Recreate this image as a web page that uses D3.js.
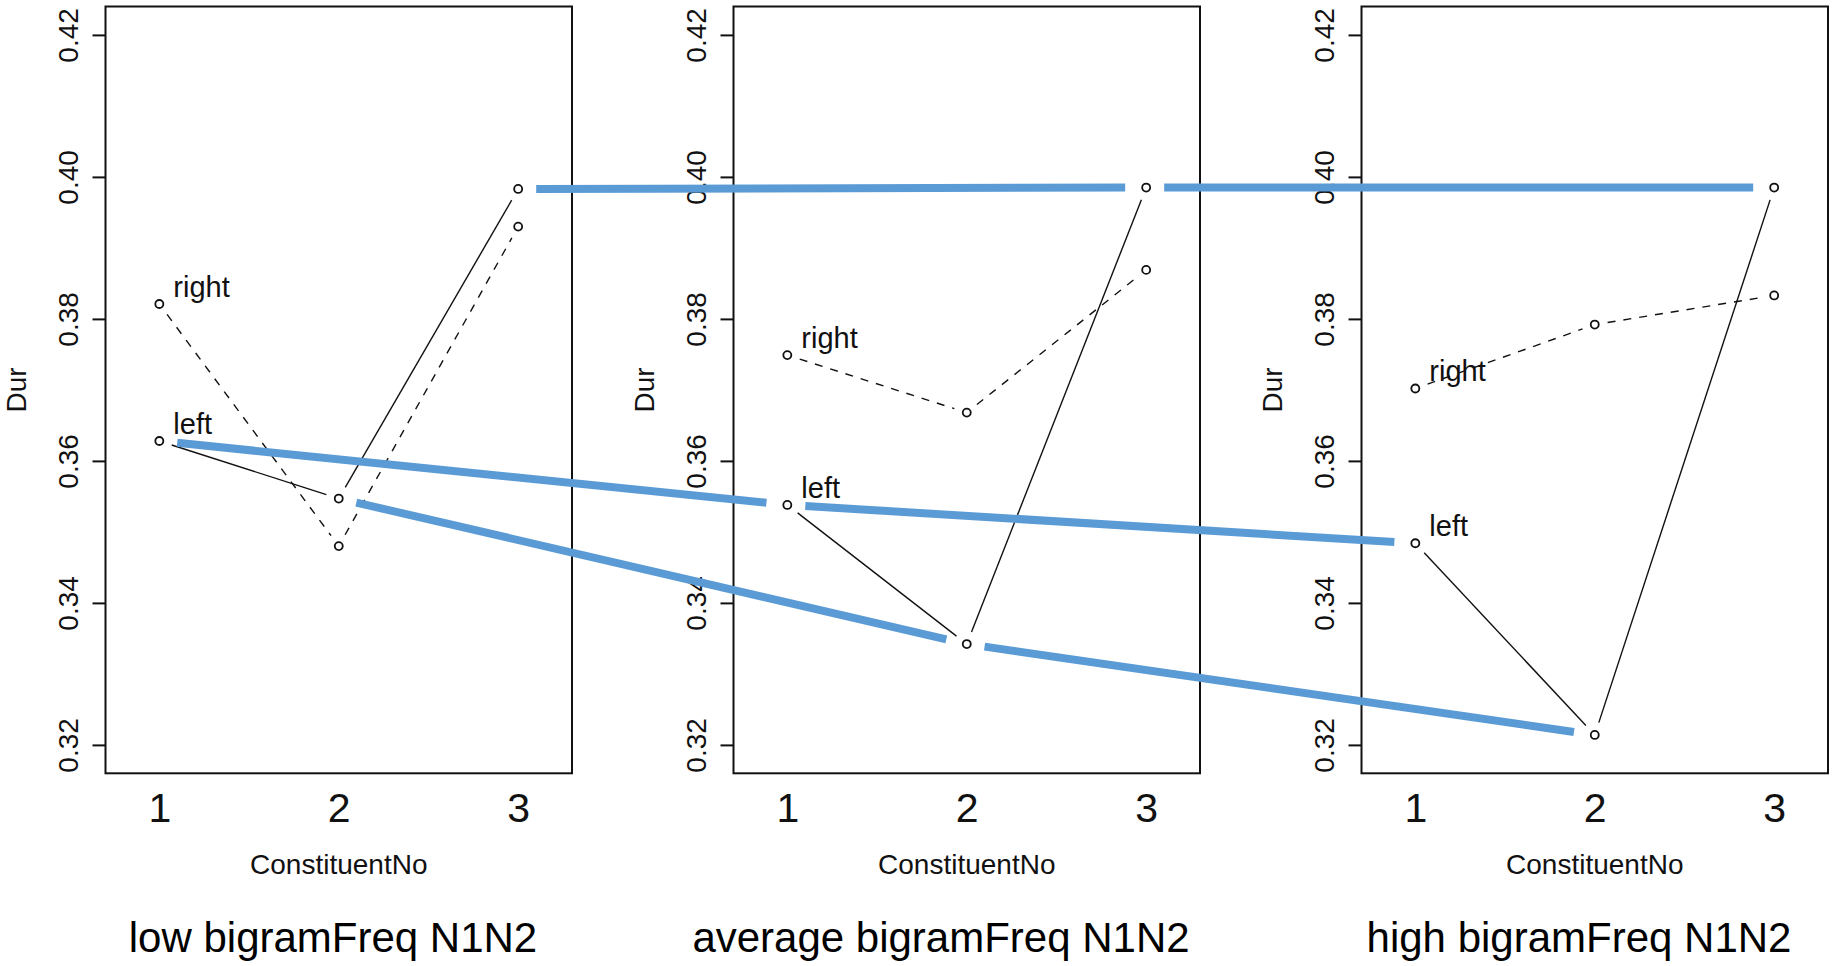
<!DOCTYPE html>
<html>
<head>
<meta charset="utf-8">
<script src="https://cdnjs.cloudflare.com/ajax/libs/d3/7.8.5/d3.min.js"></script>
<style>
	body { margin: 0; background: #fff; }
	svg { display: block; font-family: 'Liberation Sans', Arial, sans-serif; }
</style>
</head>
<body>
<script>
// data
var constituentNo = [1, 2, 3];
var panelNames = ['low bigramFreq N1N2', 'average bigramFreq N1N2', 'high bigramFreq N1N2'];
var durLeft = [
	[0.3628, 0.3547, 0.3983],
	[0.3538, 0.3342, 0.3985],
	[0.3484, 0.3214, 0.3985]
];
var durRight = [
	[0.3821, 0.3480, 0.3930],
	[0.3749, 0.3668, 0.3869],
	[0.3702, 0.3792, 0.3833]
];
var yTicks = [0.32, 0.34, 0.36, 0.38, 0.40, 0.42];

// layout
var boxLefts = [105.5, 733.5, 1361.5];
var boxWidth = 466.5;
var boxTop = 6.5, boxBottom = 773.3;
var titleCenters = [333, 941, 1579];
var blue = '#5b9bd5';

var canvas = d3.select('body')
				.append('svg')
				.attr('width', 1837)
				.attr('height', 966);

var yScale = d3.scaleLinear()
				.domain([0.316, 0.424])
				.range([boxBottom, boxTop]);

var xScales = boxLefts.map(function(l){
	return d3.scaleLinear().domain([0.7, 3.3]).range([l, l + boxWidth]);
});

// shorten a segment by a and b pixels at each end
function trim(p, q, a, b){
	var dx = q[0]-p[0], dy = q[1]-p[1], len = Math.sqrt(dx*dx+dy*dy);
	return [[p[0]+dx*a/len, p[1]+dy*a/len], [q[0]-dx*b/len, q[1]-dy*b/len]];
}

panelNames.forEach(function(name, i){
	var x = xScales[i];
	var g = canvas.append('g');

	g.append('rect')
		.attr('x', boxLefts[i])
		.attr('y', boxTop)
		.attr('width', boxWidth)
		.attr('height', boxBottom - boxTop)
		.attr('fill', 'none')
		.attr('stroke', '#111')
		.attr('stroke-width', 2);

	var yAxis = g.append('g')
					.attr('transform', 'translate(' + boxLefts[i] + ',0)')
					.call(d3.axisLeft(yScale).tickValues(yTicks).tickSize(13).tickFormat(d3.format('.2f')));
	yAxis.select('.domain').remove();
	yAxis.selectAll('line').attr('stroke', '#111').attr('stroke-width', 2);
	yAxis.selectAll('text')
		.attr('x', null).attr('dy', null)
		.attr('transform', 'translate(-28,0) rotate(-90)')
		.attr('text-anchor', 'middle')
		.attr('fill', '#111')
		.style('font-size', '28px')
		.style('font-family', "'Liberation Sans', Arial, sans-serif");

	var xAxis = g.append('g')
					.attr('transform', 'translate(0,' + boxBottom + ')')
					.call(d3.axisBottom(x).tickValues(constituentNo).tickSize(0).tickFormat(d3.format('d')));
	xAxis.select('.domain').remove();
	xAxis.selectAll('text')
		.attr('y', 49).attr('dy', null)
		.attr('fill', '#111')
		.style('font-size', '41px')
		.style('font-family', "'Liberation Sans', Arial, sans-serif");

	g.append('text')
		.attr('x', x(2))
		.attr('y', 874)
		.attr('text-anchor', 'middle')
		.attr('fill', '#111')
		.style('font-size', '28px')
		.text('ConstituentNo');

	g.append('text')
		.attr('transform', 'translate(' + (boxLefts[i] - 80) + ',' + yScale(0.37) + ') rotate(-90)')
		.attr('text-anchor', 'middle')
		.attr('fill', '#111')
		.style('font-size', '28px')
		.text('Dur');

	g.append('text')
		.attr('x', titleCenters[i])
		.attr('y', 952)
		.attr('text-anchor', 'middle')
		.attr('fill', '#000')
		.style('font-size', '42px')
		.text(name);

	[{vals: durLeft[i], dash: null, label: 'left'}, {vals: durRight[i], dash: '8,8', label: 'right'}].forEach(function(s){
		var pts = constituentNo.map(function(c, j){ return [x(c), yScale(s.vals[j])]; });
		d3.pairs(pts).forEach(function(pr){
			var t = trim(pr[0], pr[1], 13, 13);
			g.append('line')
				.attr('x1', t[0][0]).attr('y1', t[0][1])
				.attr('x2', t[1][0]).attr('y2', t[1][1])
				.attr('stroke', '#111')
				.attr('stroke-width', 1.4)
				.attr('stroke-dasharray', s.dash);
		});
		g.selectAll(null)
			.data(pts)
			.enter()
			.append('circle')
			.attr('cx', (d)=>d[0])
			.attr('cy', (d)=>d[1])
			.attr('r', 4)
			.attr('fill', 'none')
			.attr('stroke', '#111')
			.attr('stroke-width', 1.8);
		g.append('text')
			.attr('x', pts[0][0] + 14)
			.attr('y', pts[0][1] - 7)
			.attr('fill', '#111')
			.style('font-size', '29px')
			.text(s.label);
	});
});

// blue annotation lines joining the "left" points across panels
var blueLayer = canvas.append('g');
constituentNo.forEach(function(c, j){
	d3.pairs([0, 1, 2]).forEach(function(pr){
		var p = [xScales[pr[0]](c), yScale(durLeft[pr[0]][j])];
		var q = [xScales[pr[1]](c), yScale(durLeft[pr[1]][j])];
		var t = trim(p, q, 18, 21);
		blueLayer.append('line')
			.attr('x1', t[0][0]).attr('y1', t[0][1])
			.attr('x2', t[1][0]).attr('y2', t[1][1])
			.attr('stroke', blue)
			.attr('stroke-width', 8);
	});
});
</script>
</body>
</html>
